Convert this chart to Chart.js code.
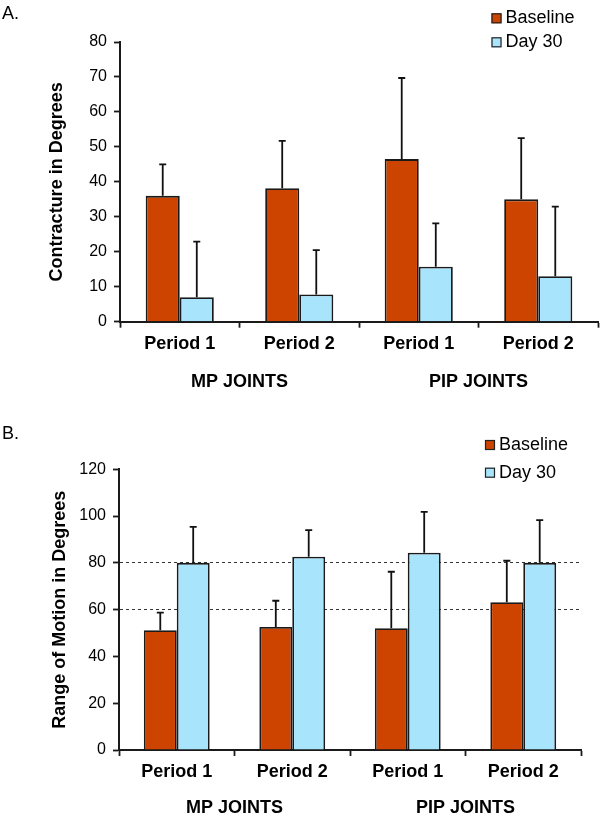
<!DOCTYPE html>
<html>
<head>
<meta charset="utf-8">
<script src="https://cdn.jsdelivr.net/npm/chart.js@4.4.1/dist/chart.umd.min.js"></script>
<style>
  body { margin: 0; background: #fff; }
  #wrap { position: relative; width: 600px; height: 814px; }
  .panel { position: absolute; left: 0; width: 600px; }
  .tag { position: absolute; left: 2px; font: 18px "Liberation Sans", Arial, sans-serif; color: #000; }
</style>
</head>
<body>
<div id="wrap">
  <div class="panel" style="top:0;height:390px"><canvas id="chartA" width="600" height="390"></canvas></div>
  <div class="panel" style="top:390px;height:424px"><canvas id="chartB" width="600" height="424"></canvas></div>
  <div class="tag" style="top:3px">A.</div>
  <div class="tag" style="top:423px">B.</div>
</div>
<script>
    var periods = ['Period 1', 'Period 2', 'Period 1', 'Period 2'];
    var joints = ['MP JOINTS', 'PIP JOINTS'];
    var seriesNames = ['Baseline', 'Day 30'];

    // A. contracture
    var contractBase = [36, 38.2, 46.5, 35];
    var contractBaseErr = [9, 13.5, 23.2, 17.5];
    var contractDay30 = [7, 7.8, 15.7, 13];
    var contractDay30Err = [15.9, 12.7, 12.4, 19.9];
    var contractTicks = [0, 10, 20, 30, 40, 50, 60, 70, 80];

    // B. range of motion
    var motionBase = [51.2, 52.6, 52.1, 63.2];
    var motionBaseErr = [7.5, 11.2, 24.1, 17.7];
    var motionDay30 = [80, 82.6, 84.3, 80];
    var motionDay30Err = [15.4, 11.4, 17.5, 18.3];
    var motionTicks = [0, 20, 40, 60, 80, 100, 120];
    var motionRefLines = [60, 80];

    var FONT = '"Liberation Sans", Arial, sans-serif';

    var errorBars = {
        id: 'errorBars',
        afterDatasetsDraw: function (chart) {
            var ctx = chart.ctx;
            var y = chart.scales.y;
            chart.data.datasets.forEach(function (ds, di) {
                var meta = chart.getDatasetMeta(di);
                meta.data.forEach(function (bar, i) {
                    var top = y.getPixelForValue(ds.data[i] + ds.errors[i]);
                    ctx.save();
                    ctx.strokeStyle = '#111';
                    ctx.lineWidth = 1.8;
                    ctx.beginPath();
                    ctx.moveTo(bar.x, bar.y);
                    ctx.lineTo(bar.x, top);
                    ctx.moveTo(bar.x - 3.5, top);
                    ctx.lineTo(bar.x + 3.5, top);
                    ctx.stroke();
                    ctx.restore();
                });
            });
        }
    };

    var boxLegend = {
        id: 'boxLegend',
        afterDraw: function (chart, args, opts) {
            var ctx = chart.ctx;
            ctx.save();
            ctx.font = '18px ' + FONT;
            ctx.textBaseline = 'middle';
            chart.data.datasets.forEach(function (ds, i) {
                var y = opts.y + i * opts.gap;
                ctx.fillStyle = ds.backgroundColor;
                ctx.fillRect(opts.x, y - 5, 10, 10);
                ctx.strokeStyle = '#222';
                ctx.lineWidth = 1.2;
                ctx.strokeRect(opts.x + 0.5, y - 4.5, 9, 9);
                ctx.fillStyle = '#000';
                ctx.fillText(ds.label, opts.x + 14, y);
            });
            ctx.restore();
        }
    };

    function makeChart(id, base, baseErr, day, dayErr, ticks, refLines, title, cfg)
    {
        var chartdata = {
            labels: periods,
            datasets: [
                {
                    label: seriesNames[0],
                    backgroundColor: '#CC4400',
                    borderColor: '#1a1a1a',
                    borderWidth: 1.8,
                    data: base,
                    errors: baseErr
                },
                {
                    label: seriesNames[1],
                    backgroundColor: '#A8E4FC',
                    borderColor: '#1a1a1a',
                    borderWidth: 1.8,
                    data: day,
                    errors: dayErr
                }
            ]
        };

        return new Chart(document.getElementById(id), {
            type: 'bar',
            data: chartdata,
            plugins: [errorBars, boxLegend],
            options: {
                responsive: false,
                animation: false,
                layout: { padding: { top: cfg.top, right: cfg.right, left: 0, bottom: 0 } },
                datasets: { bar: { categoryPercentage: 0.57, barPercentage: 1 } },
                plugins: {
                    legend: { display: false },
                    tooltip: { enabled: false },
                    boxLegend: cfg.legend
                },
                scales: {
                    y: {
                        min: 0,
                        max: ticks[ticks.length - 1],
                        afterBuildTicks: function (s) {
                            s.ticks = ticks.map(function (v) { return { value: v }; });
                        },
                        afterFit: function (s) { s.width = cfg.left; },
                        ticks: { color: '#000', font: { size: 16, family: FONT }, padding: 7 },
                        grid: {
                            drawOnChartArea: refLines.length > 0,
                            tickLength: 6,
                            tickColor: '#1a1a1a',
                            tickWidth: 1.8,
                            lineWidth: 1,
                            color: function (c) {
                                return refLines.indexOf(c.tick && c.tick.value) >= 0 ? '#333' : 'rgba(0,0,0,0)';
                            }
                        },
                        border: { color: '#1a1a1a', width: 2, dash: [3, 3] },
                        title: {
                            display: true,
                            text: title,
                            color: '#000',
                            font: { size: 18, weight: 'bold', family: FONT },
                            padding: { top: cfg.titleX - 10.8 }
                        }
                    },
                    x: {
                        weight: 0,
                        grid: { drawOnChartArea: false, tickLength: 6, tickColor: '#1a1a1a', tickWidth: 1.8, offset: true },
                        border: { color: '#1a1a1a', width: 2 },
                        ticks: { color: '#000', font: { size: 18, weight: 'bold', family: FONT }, padding: cfg.xPad, maxRotation: 0 },
                        afterFit: function (s) { s.height = cfg.xHeight; }
                    },
                    x2: {
                        type: 'category',
                        labels: joints,
                        position: 'bottom',
                        offset: true,
                        weight: 1,
                        grid: { display: false },
                        border: { display: false },
                        ticks: { color: '#000', font: { size: 18, weight: 'bold', family: FONT }, padding: cfg.x2Pad, maxRotation: 0 },
                        afterFit: function (s) { s.height = cfg.x2Height; }
                    }
                }
            }
        });
    }

    makeChart('chartA', contractBase, contractBaseErr, contractDay30, contractDay30Err,
        contractTicks, [], 'Contracture in Degrees',
        { top: 42, right: 2, left: 120, titleX: 57.5, xPad: 5.5, xHeight: 36, x2Pad: 6, x2Height: 32.3,
          legend: { x: 491.5, y: 18.3, gap: 24 } });

    makeChart('chartB', motionBase, motionBaseErr, motionDay30, motionDay30Err,
        motionTicks, motionRefLines, 'Range of Motion in Degrees',
        { top: 79.3, right: 19, left: 119, titleX: 60, xPad: 5.2, xHeight: 34, x2Pad: 5.2, x2Height: 30,
          legend: { x: 485, y: 55, gap: 27.7 } });
</script>
</body>
</html>
